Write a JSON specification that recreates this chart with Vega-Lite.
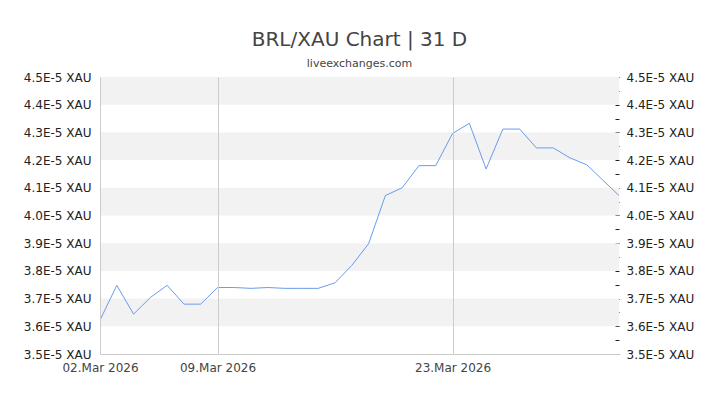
{
  "$schema": "https://vega.github.io/schema/vega-lite/v6.json",
  "autosize": "none",
  "padding": {"left": 100, "top": 77, "right": 101, "bottom": 51},
  "width": 519,
  "height": 277,
  "background": "white",
  "config": {
    "font": "DejaVu Sans",
    "view": {"stroke": null}
  },
  "title": {
    "text": "BRL/XAU Chart | 31 D",
    "subtitle": "liveexchanges.com",
    "frame": "group",
    "anchor": "middle",
    "fontSize": 20,
    "fontWeight": "normal",
    "color": "#444444",
    "subtitleFontSize": 11,
    "subtitleColor": "#444444",
    "subtitlePadding": 8,
    "offset": 2
  },
  "datasets": {
    "bands": [
      {"low": 0.000036, "high": 0.000037},
      {"low": 0.000038, "high": 0.000039},
      {"low": 0.000040, "high": 0.000041},
      {"low": 0.000042, "high": 0.000043},
      {"low": 0.000044, "high": 0.000045}
    ],
    "rates": [
      {"date": "2026-03-02", "rate": 0.00003622},
      {"date": "2026-03-03", "rate": 0.00003748},
      {"date": "2026-03-04", "rate": 0.00003644},
      {"date": "2026-03-05", "rate": 0.00003704},
      {"date": "2026-03-06", "rate": 0.00003748},
      {"date": "2026-03-07", "rate": 0.00003680},
      {"date": "2026-03-08", "rate": 0.00003680},
      {"date": "2026-03-09", "rate": 0.00003740},
      {"date": "2026-03-10", "rate": 0.00003740},
      {"date": "2026-03-11", "rate": 0.00003737},
      {"date": "2026-03-12", "rate": 0.00003740},
      {"date": "2026-03-13", "rate": 0.00003737},
      {"date": "2026-03-14", "rate": 0.00003737},
      {"date": "2026-03-15", "rate": 0.00003737},
      {"date": "2026-03-16", "rate": 0.00003757},
      {"date": "2026-03-17", "rate": 0.00003820},
      {"date": "2026-03-18", "rate": 0.00003898},
      {"date": "2026-03-19", "rate": 0.00004072},
      {"date": "2026-03-20", "rate": 0.00004100},
      {"date": "2026-03-21", "rate": 0.00004180},
      {"date": "2026-03-22", "rate": 0.00004180},
      {"date": "2026-03-23", "rate": 0.00004296},
      {"date": "2026-03-24", "rate": 0.00004333},
      {"date": "2026-03-25", "rate": 0.00004168},
      {"date": "2026-03-26", "rate": 0.00004312},
      {"date": "2026-03-27", "rate": 0.00004312},
      {"date": "2026-03-28", "rate": 0.00004244},
      {"date": "2026-03-29", "rate": 0.00004244},
      {"date": "2026-03-30", "rate": 0.00004208},
      {"date": "2026-03-31", "rate": 0.00004183},
      {"date": "2026-04-01T22:00:00Z", "rate": 0.00004072}
    ]
  },
  "resolve": {"axis": {"y": "independent"}},
  "layer": [
    {
      "data": {"name": "bands"},
      "mark": {"type": "rect", "color": "#f2f2f2"},
      "encoding": {
        "y": {
          "field": "low",
          "type": "quantitative",
          "scale": {"domain": [0.000035, 0.000045], "nice": false, "zero": false},
          "axis": {
            "orient": "left",
            "title": null,
            "values": [0.000035, 0.000036, 0.000037, 0.000038, 0.000039, 0.000040, 0.000041, 0.000042, 0.000043, 0.000044, 0.000045],
            "labelExpr": "format(datum.value * 1e5, '.1f') + 'E-5 XAU'",
            "labelFontSize": 12,
            "labelColor": "#222222",
            "labelPadding": 9,
            "ticks": false,
            "grid": false,
            "domainColor": "#cccccc",
            "labelBound": false,
            "labelOverlap": false
          }
        },
        "y2": {"field": "high"}
      }
    },
    {
      "data": {"name": "rates"},
      "mark": {"type": "line", "color": "#6b9bec", "strokeWidth": 1, "clip": true},
      "encoding": {
        "x": {
          "field": "date",
          "type": "temporal",
          "scale": {"type": "utc", "nice": false},
          "axis": {
            "title": null,
            "values": [
              {"year": 2026, "month": 3, "date": 2, "utc": true},
              {"year": 2026, "month": 3, "date": 9, "utc": true},
              {"year": 2026, "month": 3, "date": 23, "utc": true}
            ],
            "format": "%d.%b %Y",
            "labelFontSize": 12,
            "labelColor": "#444444",
            "labelPadding": 8,
            "labelFlush": false,
            "ticks": false,
            "grid": true,
            "gridColor": "#cccccc",
            "domainColor": "#cccccc",
            "zindex": 1
          }
        },
        "y": {
          "field": "rate",
          "type": "quantitative",
          "axis": {
            "orient": "right",
            "title": null,
            "values": [0.000035, 0.0000355, 0.000036, 0.0000365, 0.000037, 0.0000375, 0.000038, 0.0000385, 0.000039, 0.0000395, 0.000040, 0.0000405, 0.000041, 0.0000415, 0.000042, 0.0000425, 0.000043, 0.0000435, 0.000044, 0.0000445, 0.000045],
            "labelExpr": "round(datum.value * 2e6) % 2 == 0 ? format(datum.value * 1e5, '.1f') + 'E-5 XAU' : ''",
            "labelFontSize": 12,
            "labelColor": "#222222",
            "labelPadding": 11,
            "ticks": true,
            "tickSize": -4,
            "tickColor": "#222222",
            "domain": false,
            "grid": false,
            "labelBound": false,
            "labelOverlap": false
          }
        }
      }
    }
  ]
}
